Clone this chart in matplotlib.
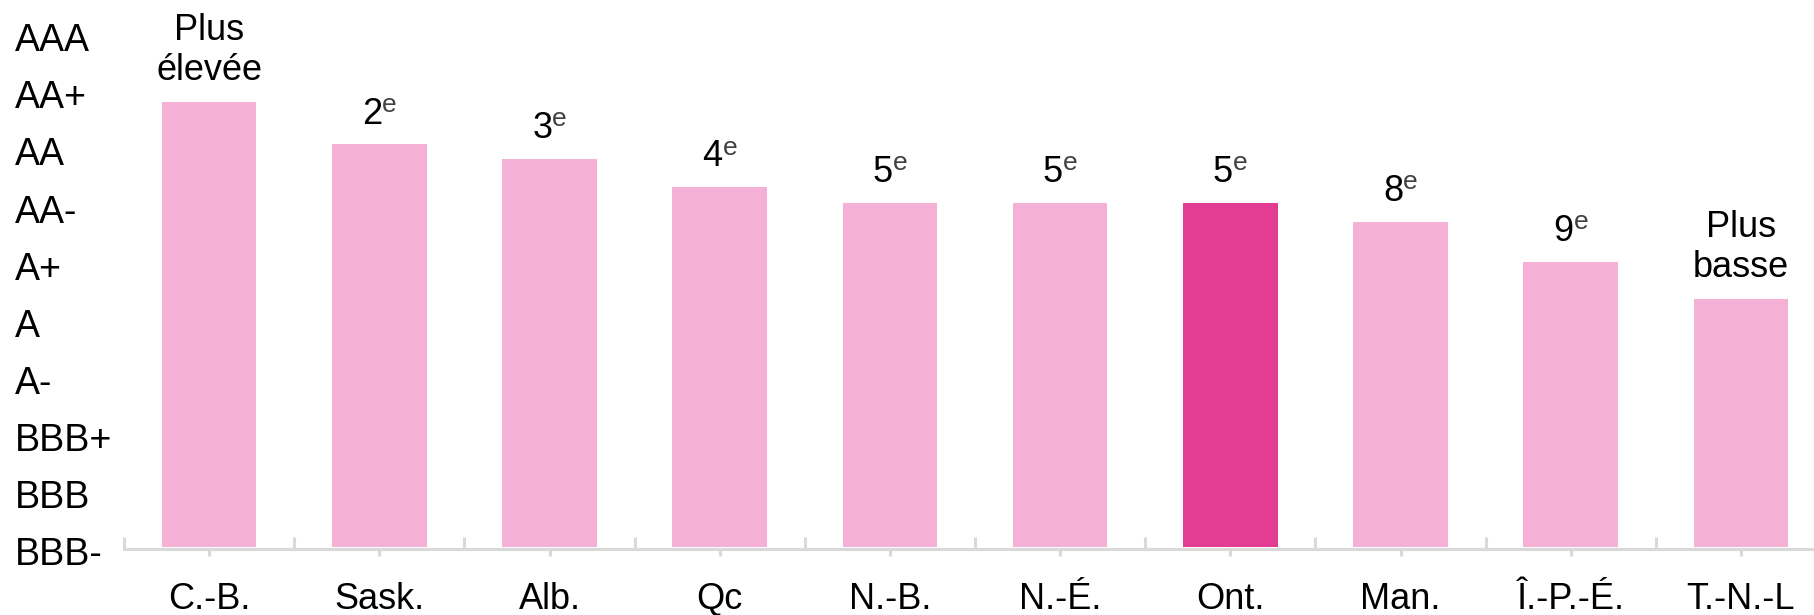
# 导入绘图库
import matplotlib
matplotlib.use("Agg")
import matplotlib.pyplot as plt
import matplotlib.transforms as mtransforms

# 数据：省份、综合信用评级得分（0 = BBB-，9 = AAA）、排名
provinces = ['C.-B.', 'Sask.', 'Alb.', 'Qc', 'N.-B.', 'N.-É.', 'Ont.', 'Man.', 'Î.-P.-É.', 'T.-N.-L']
scores = [7.8, 7.05, 6.8, 6.3, 6.03, 6.03, 6.03, 5.7, 5.0, 4.35]
ranks = ['Plus\nélevée', '2', '3', '4', '5', '5', '5', '8', '9', 'Plus\nbasse']
ratings = ['BBB-', 'BBB', 'BBB+', 'A-', 'A', 'A+', 'AA-', 'AA', 'AA+', 'AAA']

# 颜色
light_pink = '#F5B0D5'
dark_pink = '#E33D93'
axis_grey = '#D9D9D9'
colors = [dark_pink if p == 'Ont.' else light_pink for p in provinces]

plt.rcParams['font.family'] = ['Liberation Sans', 'DejaVu Sans']
fs = 26

W, H = 1814, 615
fig = plt.figure(figsize=(W / 100, H / 100), dpi=100)
ax = fig.add_axes([124 / W, (H - 547) / H, (1826 - 124) / W, 547 / H])

x = list(range(len(provinces)))
ax.bar(x, scores, width=0.556, color=colors)

ax.set_xlim(-0.5, len(provinces) - 0.5)
ax.set_ylim(0, 547 / 57.1)

# 排名标签（数字 + 上标 e）
for i, (s, r) in enumerate(zip(scores, ranks)):
    if r.isdigit():
        ax.annotate(r, xy=(i, s), xytext=(2, 15), textcoords='offset points',
                    ha='right', va='baseline', fontsize=fs, color='black')
        ax.annotate('e', xy=(i, s), xytext=(2, 23.5), textcoords='offset points',
                    ha='left', va='baseline', fontsize=19, color='#404040')
    else:
        ax.annotate(r, xy=(i, s), xytext=(0, 9.5), textcoords='offset points',
                    ha='center', va='bottom', fontsize=fs, color='black',
                    linespacing=1.2)

# y 轴：评级标签，左对齐，稍微下移
ax.set_yticks(range(len(ratings)))
ax.set_yticklabels(ratings, ha='left')
ax.tick_params(axis='y', length=0, pad=78.5, labelsize=27)
shift = mtransforms.ScaledTranslation(0, -3 / 72, fig.dpi_scale_trans)
for lab in ax.get_yticklabels():
    lab.set_transform(lab.get_transform() + shift)

# x 轴：类别刻度向下，类别之间的刻度向上
ax.set_xticks([i - 0.5 for i in range(len(provinces) + 1)], minor=True)
ax.set_xticks(x)
ax.set_xticklabels(provinces)
ax.tick_params(axis='x', which='major', direction='out', length=5, width=2.2,
               color=axis_grey, pad=19, labelsize=fs)
ax.tick_params(axis='x', which='minor', direction='in', length=8.5, width=2.2,
               color=axis_grey)

for side in ['left', 'right', 'top']:
    ax.spines[side].set_visible(False)
ax.spines['bottom'].set_color(axis_grey)
ax.spines['bottom'].set_linewidth(2.2)
ax.spines['bottom'].set_position(('outward', 1.5))

fig.savefig('out.png', dpi=100)
